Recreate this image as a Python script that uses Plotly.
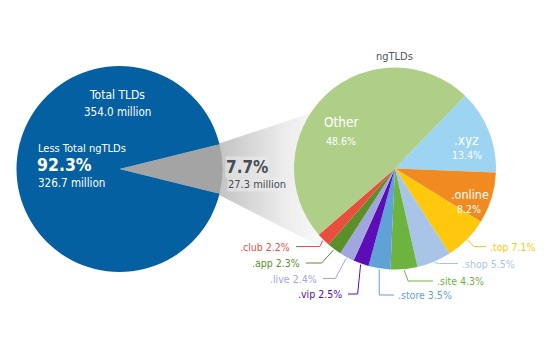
import math
import plotly.graph_objects as go

W, H = 554, 343
FONT = "Liberation Sans Narrow, DejaVu Sans Condensed, Roboto, sans-serif"

# ---- data ----
total_labels = ["ngTLDs", "Less Total ngTLDs"]
total_values = [7.7, 92.3]
total_colors = ["#a4a4a4", "#0460a1"]
total_tlds_million = 354.0
less_ng_million = 326.7
ng_million = 27.3

ng_labels = [".xyz", ".online", ".top", ".shop", ".site", ".store",
             ".vip", ".live", ".app", ".club", "Other"]
ng_values = [13.4, 8.2, 7.1, 5.5, 4.3, 3.5, 2.5, 2.4, 2.3, 2.2, 48.6]
ng_colors = ["#9dd4f2", "#f28a22", "#fec80c", "#a8c5e8", "#6cb33f", "#5fa2d6",
             "#5c0db8", "#a0a6df", "#5a8f2a", "#e94f3f", "#afcf89"]

# ---- layout constants (pixels) ----
L_CX, L_CY, L_R = 119.5, 169.0, 103.0
R_CX, R_CY, R_R = 395.0, 168.5, 101.0
L_ROT = 90 - total_values[0] * 3.6 / 2
R_ROT = 44


def dom(cx, cy, r):
    return dict(x=[(cx - r) / W, (cx + r) / W],
                y=[(H - cy - r) / H, (H - cy + r) / H])


fig = go.Figure()

# funnel with gradient, from the grey wedge toward the right pie
a0 = math.radians(L_ROT)
a1 = math.radians(L_ROT + total_values[0] * 3.6)
p_top = (L_CX + L_R * math.sin(a0) - 3, L_CY - L_R * math.cos(a0))
p_bot = (L_CX + L_R * math.sin(a1) - 3, L_CY - L_R * math.cos(a1))
fx = [p_top[0], 330, 330, p_bot[0], p_top[0]]
fy = [p_top[1], p_top[1] - 0.33 * (330 - p_top[0]),
      p_bot[1] + 0.51 * (330 - p_bot[0]), p_bot[1], p_top[1]]
fig.add_trace(go.Scatter(
    x=fx, y=fy, mode="lines", fill="toself", line=dict(width=0),
    fillgradient=dict(type="horizontal",
                      colorscale=[[0, "#c2c2c2"], [0.6, "#ececec"], [1, "#fcfcfc"]]),
    hoverinfo="skip", showlegend=False))

# leader lines for outside labels
outside = {
    # label: (text x, text y, side, elbow dx)
    ".top": (488, 246.5, "right", 6),
    ".shop": (460, 263.5, "right", 5),
    ".site": (435, 281, "right", 4),
    ".store": (396, 295, "right", 0),
    ".vip": (344, 294, "left", -3),
    ".live": (319, 278.5, "left", -11),
    ".app": (302, 263, "left", -12),
    ".club": (292, 246.5, "left", -3),
}
total = sum(ng_values)
cum = 0.0
mids = {}
for lab, v in zip(ng_labels, ng_values):
    mids[lab] = R_ROT + (cum + v / 2) / total * 360
    cum += v

annotations = []
for lab, v, col in zip(ng_labels, ng_values, ng_colors):
    if lab not in outside:
        continue
    tx, ty, side, edx = outside[lab]
    ang = math.radians(mids[lab])
    sx = R_CX + (R_R + 1) * math.sin(ang)
    sy = R_CY - (R_R + 1) * math.cos(ang)
    ex = sx + edx
    endx = tx - 2 if side == "right" else tx + 4
    fig.add_trace(go.Scatter(
        x=[sx, ex, endx], y=[sy, ty, ty], mode="lines",
        line=dict(color=col, width=1), hoverinfo="skip", showlegend=False))
    annotations.append(dict(
        x=tx, y=ty, xref="x", yref="y", showarrow=False,
        text=f"{lab} {v}%", xanchor="left" if side == "right" else "right",
        yanchor="middle", font=dict(family=FONT, size=10.5, color=col)))

fig.add_trace(go.Pie(
    labels=total_labels, values=total_values, marker=dict(colors=total_colors),
    sort=False, direction="clockwise", rotation=L_ROT, textinfo="none",
    hoverinfo="skip", showlegend=False, domain=dom(L_CX, L_CY, L_R)))

fig.add_trace(go.Pie(
    labels=ng_labels, values=ng_values, marker=dict(colors=ng_colors),
    sort=False, direction="clockwise", rotation=R_ROT, textinfo="none",
    hoverinfo="skip", showlegend=False, domain=dom(R_CX, R_CY, R_R)))


def txt(x, y, t, size, color="white", anchor="center", bold=False, bg=None):
    d = dict(x=x, y=y, xref="x", yref="y", showarrow=False, text=t,
             xanchor=anchor, yanchor="middle",
             font=dict(family=FONT, size=size, color=color,
                       weight="bold" if bold else "normal"))
    if bg:
        d["bgcolor"] = bg
        d["borderpad"] = 0
    annotations.append(d)


txt(117, 95, "Total TLDs", 12)
txt(117, 111.5, f"{total_tlds_million:.1f} million", 11.5)
txt(36, 148, total_labels[1], 11, anchor="left")
txt(35, 165, f"{total_values[1]}%", 17.5, anchor="left", bold=True)
txt(36, 182.5, f"{less_ng_million} million", 11.5, anchor="left")

txt(225, 166.5, f"{total_values[0]}%", 17, color="#474d57", anchor="left",
    bold=True, bg="rgba(236,236,236,0.55)")
txt(227, 184, f"{ng_million} million", 11, color="#474d57", anchor="left",
    bg="rgba(236,236,236,0.55)")

txt(394.5, 56, "ngTLDs", 11, color="#50555c")
txt(341, 122, "Other", 13.5)
txt(341, 141, f"{ng_values[10]}%", 10.5)
txt(466, 140, ".xyz", 13.5)
txt(467, 155, f"{ng_values[0]}%", 10.5)
txt(469.5, 194, ".online", 12.5)
txt(468.5, 209, f"{ng_values[1]}%", 10.5)

fig.update_layout(
    width=W, height=H, autosize=False,
    margin=dict(l=0, r=0, t=0, b=0, pad=0),
    paper_bgcolor="white", plot_bgcolor="white",
    xaxis=dict(range=[0, W], visible=False, fixedrange=True, domain=[0, 1]),
    yaxis=dict(range=[H, 0], visible=False, fixedrange=True, domain=[0, 1]),
    annotations=annotations,
)

fig.write_html("out.html")
